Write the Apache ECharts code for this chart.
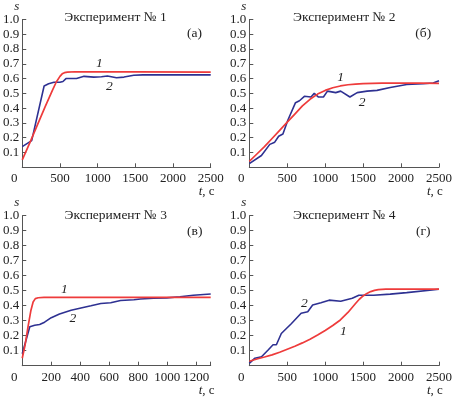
<!DOCTYPE html>
<html>
<head>
<meta charset="utf-8">
<script src="https://cdn.jsdelivr.net/npm/echarts@6/dist/echarts.min.js"></script>
<style>
  html, body { margin: 0; padding: 0; background: #fff; }
  #chart { width: 455px; height: 397px; }
</style>
</head>
<body>
<div id="chart"></div>
<script>
// значения, пары [t, s]
const exp1Model = [[0,0.05],[100,0.165],[200,0.285],[300,0.405],[400,0.52],[450,0.575],[500,0.615],[530,0.632],[560,0.64],[600,0.644],[700,0.646],[1500,0.645],[2500,0.644]];
const exp1Data = [[0,0.14],[125,0.18],[290,0.55],[350,0.565],[420,0.575],[500,0.575],[540,0.58],[580,0.6],[720,0.6],[820,0.615],[950,0.61],[1050,0.612],[1130,0.617],[1250,0.605],[1350,0.61],[1480,0.622],[1600,0.625],[2500,0.625]];

const exp2Model = [[0,0.04],[100,0.09],[200,0.14],[300,0.195],[400,0.25],[500,0.305],[600,0.36],[700,0.415],[800,0.46],[900,0.495],[1000,0.52],[1100,0.538],[1200,0.55],[1300,0.558],[1400,0.563],[1500,0.566],[1750,0.569],[2000,0.57],[2250,0.569],[2500,0.567]];
const exp2Data = [[0,0.025],[160,0.08],[270,0.155],[335,0.17],[387,0.21],[443,0.225],[509,0.32],[609,0.437],[661,0.45],[726,0.48],[813,0.475],[856,0.5],[912,0.475],[977,0.475],[1030,0.515],[1139,0.505],[1204,0.515],[1326,0.475],[1422,0.505],[1552,0.515],[1683,0.52],[1857,0.54],[2075,0.56],[2292,0.565],[2423,0.57],[2500,0.585]];

const exp3Model = [[0,0.05],[20,0.14],[40,0.26],[60,0.37],[75,0.425],[90,0.447],[110,0.453],[150,0.455],[1300,0.455]];
const exp3Data = [[0,0.08],[52,0.26],[86,0.27],[120,0.275],[154,0.29],[200,0.32],[257,0.345],[337,0.37],[405,0.385],[474,0.4],[542,0.415],[610,0.42],[678,0.435],[770,0.44],[815,0.445],[906,0.45],[997,0.452],[1088,0.46],[1180,0.47],[1300,0.478]];

const exp4Model = [[0,0.03],[100,0.045],[200,0.058],[300,0.072],[400,0.09],[500,0.11],[600,0.13],[700,0.152],[800,0.177],[900,0.205],[1000,0.235],[1100,0.268],[1200,0.305],[1300,0.355],[1400,0.415],[1450,0.443],[1500,0.465],[1550,0.482],[1600,0.494],[1650,0.502],[1700,0.507],[1800,0.51],[2500,0.51]];
const exp4Data = [[0,0.016],[74,0.05],[161,0.06],[248,0.105],[313,0.14],[357,0.14],[422,0.215],[553,0.28],[683,0.35],[770,0.36],[835,0.405],[944,0.42],[1052,0.437],[1205,0.43],[1357,0.45],[1444,0.47],[1639,0.47],[1857,0.477],[2074,0.487],[2500,0.51]];

const modelSeries = [exp1Model, exp2Model, exp3Model, exp4Model];
const dataSeries = [exp1Data, exp2Data, exp3Data, exp4Data];
const panelTitles = ['Эксперимент № 1', 'Эксперимент № 2', 'Эксперимент № 3', 'Эксперимент № 4'];
const panelLetters = ['(а)', '(б)', '(в)', '(г)'];
const xMax = [2500, 2500, 1300, 2500];
const xStep = [500, 500, 200, 500];
// где стоят подписи кривых 1 и 2 (в координатах графика)
const label1At = [[1024,0.704],[1205,0.609],[291,0.505],[1239,0.227]];
const label2At = [[1155,0.549],[1487,0.437],[349,0.316],[726,0.416]];

const FONT = 'Liberation Serif';
const RED = '#ee3b3b';
const BLUE = '#2e3192';
const AXIS = '#555';

const grids = [
  { left: 20.5, top: 17.3, width: 190.2, height: 150 },
  { left: 249.3, top: 17.3, width: 191.7, height: 150 },
  { left: 20.7, top: 215.7, width: 190, height: 150 },
  { left: 249.3, top: 215.7, width: 191.7, height: 150 }
];

const chart = echarts.init(document.getElementById('chart'), null, { renderer: 'canvas' });

const xAxis = [], yAxis = [], series = [], graphic = [];
grids.forEach((g, i) => {
  xAxis.push({
    type: 'value', gridIndex: i, min: 0, max: xMax[i], interval: xStep[i],
    axisLine: { lineStyle: { color: AXIS, width: 1 } },
    axisTick: { inside: true, length: 4, lineStyle: { color: AXIS } },
    splitLine: { show: false },
    axisLabel: {
      color: '#222', fontFamily: FONT, fontSize: 13, margin: 5, showMaxLabel: true,
      formatter: v => v === 0 ? '{o|0}' : (v % xStep[i] === 0 ? String(v) : ''),
      rich: { o: { fontFamily: FONT, fontSize: 13, color: '#222', padding: [0, 16, 0, 0] } }
    },
    name: '{i|t}, с', nameLocation: 'end', nameGap: -12,
    nameTextStyle: {
      fontFamily: FONT, fontSize: 13, color: '#222', verticalAlign: 'top', padding: [18, 0, 0, 0],
      rich: { i: { fontFamily: FONT, fontSize: 13, fontStyle: 'italic', color: '#222' } }
    }
  });
  yAxis.push({
    type: 'value', gridIndex: i, min: 0, max: 1, interval: 0.1,
    axisLine: { show: true, lineStyle: { color: AXIS, width: 1 } },
    axisTick: { show: true, inside: true, length: 4, lineStyle: { color: AXIS } },
    splitLine: { show: false },
    axisLabel: {
      color: '#222', fontFamily: FONT, fontSize: 13, margin: 3,
      formatter: v => v === 0 ? '' : v.toFixed(1)
    },
    name: 's', nameLocation: 'end', nameGap: 3,
    nameTextStyle: { fontFamily: FONT, fontSize: 13, fontStyle: 'italic', color: '#222', padding: [0, 11, 0, 0] }
  });
  const curveMark = (pos, txt) => ({
    symbol: 'circle', symbolSize: 0, silent: true,
    label: { show: true, position: 'inside', formatter: txt, fontFamily: FONT, fontSize: 13.5, fontStyle: 'italic', color: '#222' },
    data: [{ coord: pos }]
  });
  series.push({
    type: 'line', xAxisIndex: i, yAxisIndex: i, data: modelSeries[i], showSymbol: false,
    lineStyle: { color: RED, width: 1.7 }, z: 3,
    markPoint: curveMark(label1At[i], '1')
  });
  series.push({
    type: 'line', xAxisIndex: i, yAxisIndex: i, data: dataSeries[i], showSymbol: false,
    lineStyle: { color: BLUE, width: 1.6 }, z: 2,
    markPoint: curveMark(label2At[i], '2')
  });
  graphic.push({
    type: 'text', x: g.left + 95, y: g.top,
    style: { text: panelTitles[i], font: '13.5px "Liberation Serif"', fill: '#222', align: 'center', verticalAlign: 'middle' }
  });
  graphic.push({
    type: 'text', x: g.left + 174, y: g.top + 16,
    style: { text: panelLetters[i], font: '13.5px "Liberation Serif"', fill: '#222', align: 'center', verticalAlign: 'middle' }
  });
});

chart.setOption({
  animation: false,
  grid: grids,
  xAxis: xAxis,
  yAxis: yAxis,
  series: series,
  graphic: graphic
});
</script>
</body>
</html>
